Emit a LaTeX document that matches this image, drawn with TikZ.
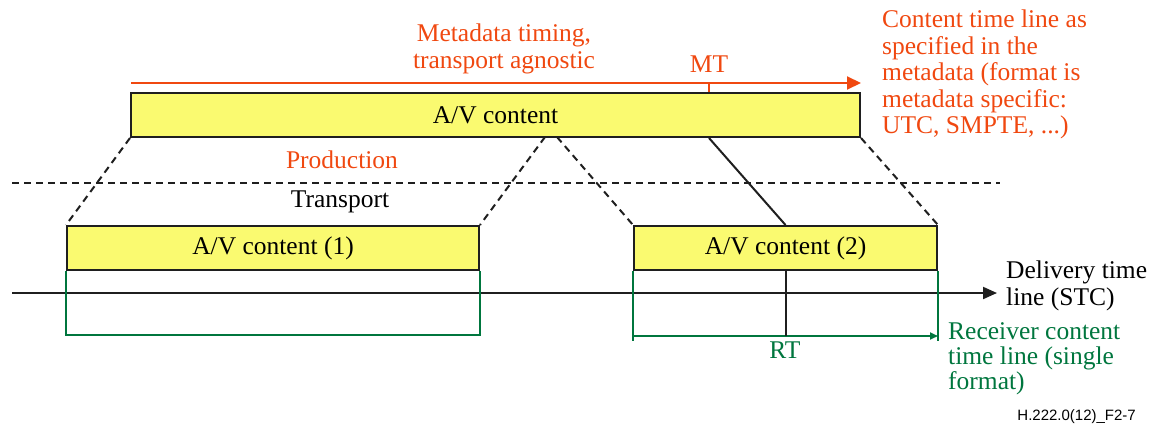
\documentclass[tikz,border=0pt]{standalone}
\usepackage{fontspec}
\setmainfont{Liberation Serif}
\newfontfamily\figfont{Liberation Sans}
\usetikzlibrary{positioning, arrows.meta}
\definecolor{metaorange}{RGB}{240,72,16}
\definecolor{recvgreen}{RGB}{0,118,62}
\definecolor{avyellow}{RGB}{250,250,112}
\tikzset{
  avbox/.style={draw=black!88, line width=2pt, fill=avyellow, inner sep=0pt,
    minimum height=44pt, font=\fontsize{25.5}{26.5}\selectfont},
  txt/.style={inner sep=0pt, font=\fontsize{25.5}{26.5}\selectfont},
  metaline/.style={draw=metaorange, line width=2pt},
  recvline/.style={draw=recvgreen, line width=2pt},
  tline/.style={draw=black!88, line width=2pt},
  bound/.style={draw=black!88, line width=2pt, dash pattern=on 7pt off 5pt},
}

\begin{document}
\begin{tikzpicture}[x=1pt, y=-1pt]

            \useasboundingbox (0, 0) rectangle (1150, 428);

            % content boxes
            \node[avbox, minimum width=729pt] (top) at (495.5, 115) {A/V content};
            \node[avbox, minimum width=412pt] (av1) at (273, 248) {A/V content (1)};
            \node[avbox, minimum width=303pt] (av2) at (785.5, 248) {A/V content (2)};

            % metadata time line
            \coordinate (mstart) at (131, 83);
            \coordinate (mend) at (861, 83);
            \coordinate (mt) at (709, 83);
            \draw[metaline, -{Triangle[length=14pt, width=13pt]}] (mstart) -- (mend);
            \draw[metaline] (mt) -- (mt |- top.north);
            \node[txt, text=metaorange, anchor=base] (mtlabel) at (709, 72) {MT};
            \node[txt, text=metaorange, align=center, anchor=north] (metatitle) at (504, 24)
                {Metadata timing,\\transport agnostic};
            \node[txt, text=metaorange, align=left, anchor=north west] (metanote) at (882, 10)
                {Content time line as\\specified in the\\metadata (format is\\metadata specific:\\UTC, SMPTE, ...)};

            % production / transport split
            \coordinate (splitL) at (12, 183);
            \coordinate (splitR) at (1000, 183);
            \draw[bound] (splitL) -- (splitR);
            \node[txt, text=metaorange, anchor=base] (prod) at (342, 168) {Production};
            \node[txt, anchor=base] (trans) at (340, 207) {Transport};

            \coordinate (apexL) at (545, 137);
            \coordinate (apexR) at (557, 137);
            \draw[bound] (top.south west) -- (av1.north west);
            \draw[bound] (apexL) -- (av1.north east);
            \draw[bound] (apexR) -- (av2.north west);
            \draw[bound] (top.south east) -- (av2.north east);
            \draw[tline] (top.south -| mt) -- (av2.north);

            % delivery time line
            \coordinate (dstart) at (12, 293);
            \coordinate (dend) at (997, 293);
            \draw[tline, -{Triangle[length=14pt, width=12pt]}] (dstart) -- (dend);
            \node[txt, align=left, anchor=north west] (delivery) at (1006, 261)
                {Delivery time\\line (STC)};

            % receiver time lines
            \draw[recvline] (av1.south west) -- ++(0, 64) -| (av1.south east);
            \coordinate (rt) at (av2.south |- 0, 336);
            \draw[recvline] (av2.south west) -- ++(0, 70);
            \draw[recvline] (av2.south east) -- ++(0, 70);
            \draw[recvline, -{Triangle[length=8pt, width=7pt]}] (av2.south west |- rt) -- (av2.south east |- rt);
            \draw[tline] (av2.south) -- (rt);
            \node[txt, text=recvgreen, anchor=base] (rtlabel) at (785, 358) {RT};
            \node[txt, text=recvgreen, align=left, anchor=north west, font=\fontsize{25.5}{25}\selectfont] (recvnote) at (948, 322)
                {Receiver content\\time line (single\\format)};

            \node[inner sep=0pt, anchor=base east, font=\figfont\fontsize{15}{18}\selectfont] (figid) at (1136, 420) {H.222.0(12)\_F2-7};
        \end{tikzpicture}
\end{document}
